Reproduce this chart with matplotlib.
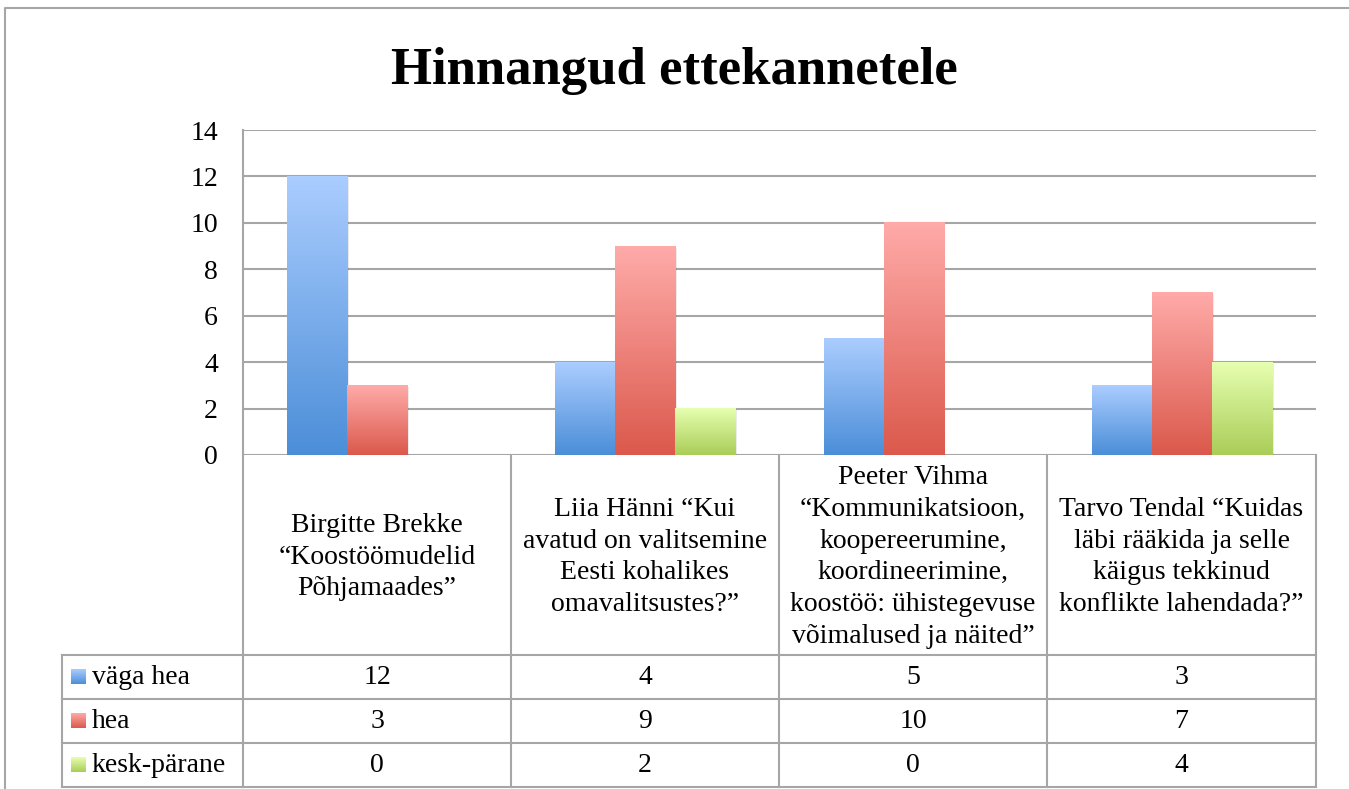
import numpy as np
import matplotlib.pyplot as plt
from matplotlib.colors import LinearSegmentedColormap

plt.rcParams['font.family'] = ['Liberation Serif', 'DejaVu Serif']

title = "Hinnangud ettekannetele"
speakers = [
    "Birgitte Brekke\n“Koostöömudelid\nPõhjamaades”",
    "Liia Hänni “Kui\navatud on valitsemine\nEesti kohalikes\nomavalitsustes?”",
    "Peeter Vihma\n“Kommunikatsioon,\nkoopereerumine,\nkoordineerimine,\nkoostöö: ühistegevuse\nvõimalused ja näited”",
    "Tarvo Tendal “Kuidas\nläbi rääkida ja selle\nkäigus tekkinud\nkonflikte lahendada?”",
]
series = ["väga hea", "hea", "kesk-pärane"]
vaga_hea = [12, 4, 5, 3]
hea = [3, 9, 10, 7]
kesk_parane = [0, 2, 0, 4]
values = [vaga_hea, hea, kesk_parane]
yticks = [0, 2, 4, 6, 8, 10, 12, 14]

# (bottom, top) gradient colours
grads = [("#4b8ed8", "#abcdff"), ("#db594c", "#ffaba9"), ("#aacd58", "#e6ffb0")]
grid_c = "#a6a6a6"
fs = 20

W, H = 1349, 789
fig = plt.figure(figsize=(W / 100, H / 100), dpi=100)

# page layer in pixel coordinates
bg = fig.add_axes([0, 0, 1, 1])
bg.set_xlim(0, W)
bg.set_ylim(H, 0)
bg.axis("off")

L, R, T, B = 243, 1316, 130, 455
ax = fig.add_axes([L / W, 1 - B / H, (R - L) / W, (B - T) / H])
ax.patch.set_alpha(0)

n = len(speakers)
x = np.arange(n)
bw = 60 / 268
cmaps = [LinearSegmentedColormap.from_list("g%d" % i, g) for i, g in enumerate(grads)]
grad = np.linspace(0, 1, 256).reshape(-1, 1)
for i, vals in enumerate(values):
    bars = ax.bar(x + (i - 1) * bw, vals, bw, color=grads[i][0], zorder=2, linewidth=0)
    for b in bars:
        if b.get_height() <= 0:
            continue
        x0, y0 = b.get_x(), b.get_y()
        # faint drop shadow
        ax.bar(x0 + b.get_width() / 2 + 0.006, b.get_height(), b.get_width(), bottom=-0.08,
               color="black", alpha=0.08, linewidth=0, zorder=1.5)
        ax.imshow(grad, extent=(x0, x0 + b.get_width(), y0, y0 + b.get_height()),
                  origin="lower", aspect="auto", cmap=cmaps[i], zorder=3)

ax.set_xlim(-0.5, n - 0.5)
ax.set_ylim(0, 14)
ax.set_yticks(yticks)
ax.set_xticks([])
ax.yaxis.grid(True, color=grid_c, linewidth=1.5, zorder=0)
ax.set_axisbelow(True)
for s in ["top", "right", "bottom"]:
    ax.spines[s].set_visible(False)
ax.spines["left"].set_color(grid_c)
ax.spines["left"].set_linewidth(1.5)
ax.tick_params(axis="y", length=0, pad=18, labelsize=fs)

fig.text(0.5, 1 - 71 / H, title, ha="center", va="center", fontsize=38, fontweight="bold")

# outer frame
bg.plot([5, 5, W + 10], [H + 10, 8, 8], color=grid_c, lw=1.5, clip_on=False)

# data table
cols = [243, 511, 779, 1047, 1316]
rows = [655, 699, 743, 787]
for cx in cols:
    bg.plot([cx, cx], [B, rows[-1]], color=grid_c, lw=1.5)
bg.plot([62, 62], [rows[0], rows[-1]], color=grid_c, lw=1.5)
for ry in rows:
    bg.plot([62, cols[-1]], [ry, ry], color=grid_c, lw=1.5)

for j, name in enumerate(speakers):
    cx = (cols[j] + cols[j + 1]) / 2
    bg.text(cx, (B + rows[0]) / 2 + 2, name, ha="center", va="center",
            multialignment="center", fontsize=fs, linespacing=1.35)
    for i, vals in enumerate(values):
        bg.text(cx, (rows[i] + rows[i + 1]) / 2, str(vals[j]), ha="center", va="center", fontsize=fs)

for i, s in enumerate(series):
    cy = (rows[i] + rows[i + 1]) / 2
    bg.imshow(grad[::-1], extent=(71, 86, cy + 7.5, cy - 7.5), aspect="auto",
              cmap=cmaps[i], origin="upper")
    bg.text(92, cy, s, ha="left", va="center", fontsize=fs)

bg.set_xlim(0, W)
bg.set_ylim(H, 0)
fig.savefig("out.png", dpi=100)
